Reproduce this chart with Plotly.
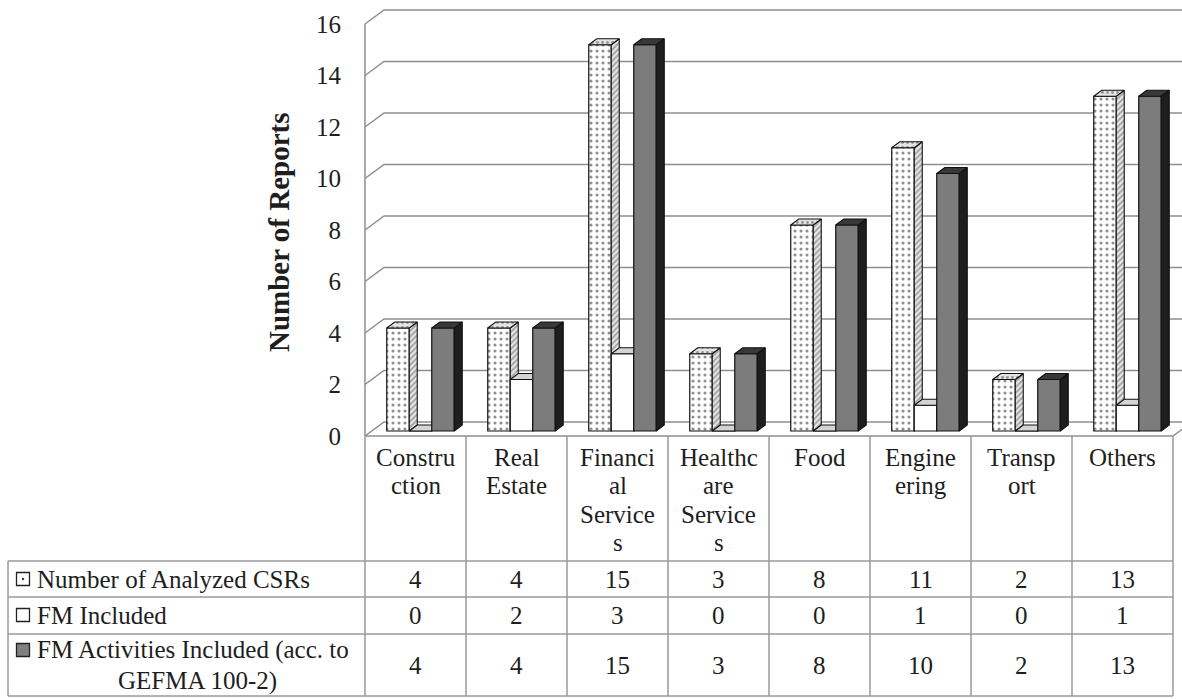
import plotly.graph_objects as go

# ---- data -------------------------------------------------------------
categories = [
    "Constru<br>ction", "Real<br>Estate", "Financi<br>al<br>Service<br>s",
    "Healthc<br>are<br>Service<br>s", "Food", "Engine<br>ering",
    "Transp<br>ort", "Others",
]
analyzed_csrs = [4, 4, 15, 3, 8, 11, 2, 13]
fm_included = [0, 2, 3, 0, 0, 1, 0, 1]
fm_activities = [4, 4, 15, 3, 8, 10, 2, 13]
series_names = [
    "Number of Analyzed CSRs",
    "FM Included",
    "FM Activities Included (acc. to<br>GEFMA 100-2)",
]
y_ticks = [0, 2, 4, 6, 8, 10, 12, 14, 16]
y_title = "Number of Reports"

# ---- geometry (pixel based helpers) -----------------------------------
W, H = 1182, 699
PX_PER_CAT = 101.0
PX_PER_UNIT = 25.75
X0_PX = 415.5      # centre of the first category
Y0_PX = 436.0      # value 0 on the front plane


def dxp(px):
    return px / PX_PER_CAT


def dyp(px):
    return px / PX_PER_UNIT


def xd(px):
    return (px - X0_PX) / PX_PER_CAT


def yd(py):
    return (Y0_PX - py) / PX_PER_UNIT


X_RANGE = [xd(0), xd(W)]
Y_RANGE = [yd(H), yd(0)]

WALL_DX, WALL_DY = dxp(19), dyp(14)
BAR_DX, BAR_DY = dxp(8), dyp(6)
BAR_BASE = dyp(5)
BAR_SHIFT = dxp(5)
BAR_W = dxp(22.5)

n = len(categories)
x_left, x_right = -0.5, n - 0.5

FONT = "Liberation Serif"
TXT = "#1e1e1e"
GRID = "#8e8e8e"
TABLE = "#9a9a9a"

fig = go.Figure()

# ---- walls, floor and gridlines ---------------------------------------
gx, gy = [], []
for v in y_ticks:
    gx += [x_left, x_left + WALL_DX, xd(W) + 1, None]
    gy += [v, v + WALL_DY, v + WALL_DY, None]
gx += [x_left, x_left, None]
gy += [0, y_ticks[-1], None]
gx += [x_left, x_right, x_right + WALL_DX, None]
gy += [0, 0, WALL_DY, None]
fig.add_trace(go.Scatter(x=gx, y=gy, mode="lines", line=dict(color=GRID, width=1.5),
                         hoverinfo="skip", showlegend=False))

# ---- data table lines ---------------------------------------------------
row_lines = [yd(561), yd(597), yd(634), yd(696)]
table_left = xd(8)
tx, ty = [], []
for k in range(n + 1):
    tx += [x_left + k, x_left + k, None]
    ty += [0, row_lines[-1], None]
for r in row_lines:
    tx += [table_left, x_right, None]
    ty += [r, r, None]
tx += [table_left, table_left, None]
ty += [row_lines[0], row_lines[-1], None]
fig.add_trace(go.Scatter(x=tx, y=ty, mode="lines", line=dict(color=TABLE, width=1.5),
                         hoverinfo="skip", showlegend=False))

# legend keys inside the table
key_x = xd(23)
key_rows = [yd(579), yd(615), yd(650)]
fig.add_trace(go.Scatter(
    x=[key_x] * 3, y=key_rows, mode="markers",
    marker=dict(symbol=["square-dot", "square", "square"], size=13,
                color=["white", "white", "#808080"],
                line=dict(color="#222", width=1.3)),
    hoverinfo="skip", showlegend=False))


# ---- 3D columns ---------------------------------------------------------
def add_series(values, k, axis, front, side, top):
    centers = [i + BAR_SHIFT + k * BAR_W for i in range(n)]
    fig.add_trace(go.Bar(
        x=centers, y=values, base=BAR_BASE, width=BAR_W,
        marker=dict(color=front["color"], pattern=front.get("pattern"),
                    line=dict(color="#111", width=1.2)),
        xaxis="x", yaxis=axis, showlegend=False, hoverinfo="skip"))
    sx, sy, px_, py_ = [], [], [], []
    for c, v in zip(centers, values):
        xl, xr = c - BAR_W / 2, c + BAR_W / 2
        b, t = BAR_BASE, BAR_BASE + v
        sx += [xr, xr + BAR_DX, xr + BAR_DX, xr, xr, None]
        sy += [b, b + BAR_DY, t + BAR_DY, t, b, None]
        px_ += [xl, xl + BAR_DX, xr + BAR_DX, xr, xl, None]
        py_ += [t, t + BAR_DY, t + BAR_DY, t, t, None]
    for xs, ys, st in ((sx, sy, side), (px_, py_, top)):
        kw = dict(x=xs, y=ys, mode="lines", fill="toself", fillcolor=st["color"],
                  line=dict(color="#111", width=1.1), xaxis="x", yaxis=axis,
                  hoverinfo="skip", showlegend=False)
        if "pattern" in st:
            kw["fillpattern"] = st["pattern"]
        fig.add_trace(go.Scatter(**kw))


add_series(analyzed_csrs, -1, "y2",
           front=dict(color="white", pattern=dict(shape=".", fgcolor="#222", bgcolor="white",
                                                  size=6, solidity=0.22)),
           side=dict(color="#cfcfcf", pattern=dict(shape="/", fgcolor="#555", bgcolor="#e6e6e6",
                                                   size=4, solidity=0.45)),
           top=dict(color="#e4e4e4", pattern=dict(shape=".", fgcolor="#444", bgcolor="#e4e4e4",
                                                  size=5, solidity=0.25)))
add_series(fm_included, 0, "y3",
           front=dict(color="white"),
           side=dict(color="#f2f2f2"),
           top=dict(color="#d4d4d4"))
add_series(fm_activities, 1, "y4",
           front=dict(color="#7c7c7c"),
           side=dict(color="#1e1e1e"),
           top=dict(color="#383838"))

# ---- text ---------------------------------------------------------------
base_font = dict(family=FONT, size=25, color=TXT)
ann = []
for i, lab in enumerate(categories):
    for j, line in enumerate(lab.split("<br>")):
        ann.append(dict(x=i, y=yd(457 + 28.5 * j), text=line, showarrow=False,
                        xanchor="center", yanchor="middle", font=base_font))

row_vals = [analyzed_csrs, fm_included, fm_activities]
row_centres = [yd(579), yd(615), yd(665)]
for vals, yc in zip(row_vals, row_centres):
    for i, v in enumerate(vals):
        ann.append(dict(x=i, y=yc, text=str(v), showarrow=False,
                        xanchor="center", yanchor="middle", font=base_font))

label_rows = [yd(579), yd(615), yd(650)]
for name, yc in zip(series_names, label_rows):
    parts = name.split("<br>")
    ann.append(dict(x=xd(35), y=yc, text=parts[0], showarrow=False, xanchor="left",
                    yanchor="middle", font=base_font))
    for j, line in enumerate(parts[1:]):
        ann.append(dict(x=xd(197), y=yd(681 + 31 * j), text=line, showarrow=False,
                        xanchor="center", yanchor="middle", font=base_font))

ann.append(dict(x=xd(279), y=yd(232), text="<b>" + y_title + "</b>", textangle=-90,
                showarrow=False, xanchor="center", yanchor="middle",
                font=dict(family=FONT, size=29, color=TXT)))

hidden = dict(range=Y_RANGE, visible=False, overlaying="y", fixedrange=True)
fig.update_layout(
    width=W, height=H,
    margin=dict(l=0, r=0, t=0, b=0),
    paper_bgcolor="white", plot_bgcolor="white",
    font=dict(family=FONT, color=TXT),
    barmode="overlay", showlegend=False,
    xaxis=dict(range=X_RANGE, visible=False, domain=[0, 1], fixedrange=True),
    yaxis=dict(range=Y_RANGE, tickvals=y_ticks, showgrid=False, zeroline=False,
               showline=False, ticks="", anchor="free", position=341 / W,
               tickfont=dict(family=FONT, size=25, color=TXT), fixedrange=True),
    yaxis2=hidden, yaxis3=hidden, yaxis4=hidden,
    annotations=ann,
)

fig.write_html("out.html")
